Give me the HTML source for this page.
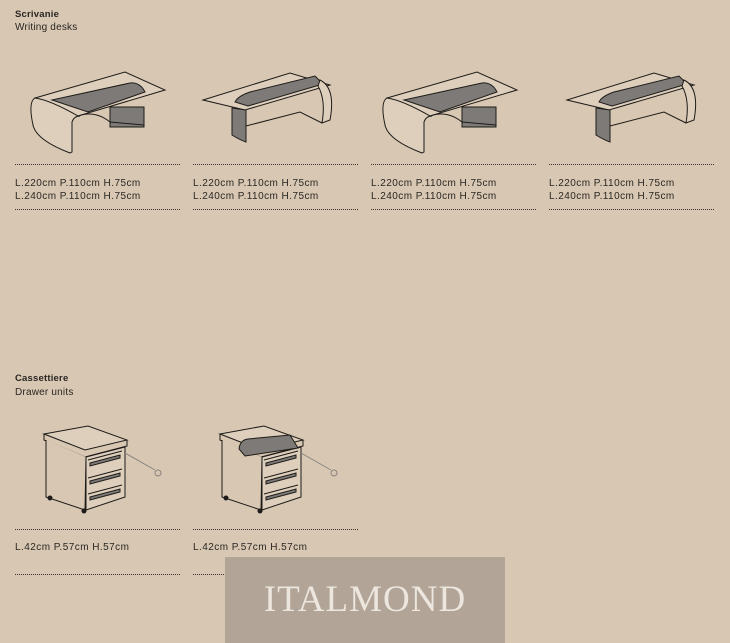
<!DOCTYPE html>
<html><head><meta charset="utf-8"><style>
html,body{margin:0;padding:0}
body{width:730px;height:643px;background:#d8c8b3;position:relative;overflow:hidden;font-family:"Liberation Sans",sans-serif;color:#2a2622}
.t{position:absolute;font-size:10px;line-height:13px;letter-spacing:0.45px}
.h{font-weight:bold;font-size:9.5px;letter-spacing:0.2px}
.dot{position:absolute;height:0;border-top:1px dotted #3a3530;width:165px}
.wm{position:absolute;left:225px;top:557px;width:280px;height:86px;background:#b2a597;color:#ece6de;font-family:"Liberation Serif",serif;font-size:37px;text-align:center;line-height:86px;letter-spacing:1px}
svg{position:absolute;left:0;top:0}
</style></head><body>
<div class="t h" style="left:15px;top:8px">Scrivanie</div>
<div class="t" style="left:15px;top:21px;letter-spacing:0.2px">Writing desks</div>
<div class="t h" style="left:15px;top:372px">Cassettiere</div>
<div class="t" style="left:15px;top:386px;letter-spacing:0.2px">Drawer units</div>

<div class="dot" style="left:15px;top:164px"></div><div class="dot" style="left:193px;top:164px"></div><div class="dot" style="left:371px;top:164px"></div><div class="dot" style="left:549px;top:164px"></div>
<div class="dot" style="left:15px;top:209px"></div><div class="dot" style="left:193px;top:209px"></div><div class="dot" style="left:371px;top:209px"></div><div class="dot" style="left:549px;top:209px"></div>
<div class="t" style="left:15px;top:177px">L.220cm P.110cm H.75cm<br>L.240cm P.110cm H.75cm</div>
<div class="t" style="left:193px;top:177px">L.220cm P.110cm H.75cm<br>L.240cm P.110cm H.75cm</div>
<div class="t" style="left:371px;top:177px">L.220cm P.110cm H.75cm<br>L.240cm P.110cm H.75cm</div>
<div class="t" style="left:549px;top:177px">L.220cm P.110cm H.75cm<br>L.240cm P.110cm H.75cm</div>

<div class="dot" style="left:15px;top:529px"></div><div class="dot" style="left:193px;top:529px"></div>
<div class="dot" style="left:15px;top:574px"></div><div class="dot" style="left:193px;top:574px"></div>
<div class="t" style="left:15px;top:541px">L.42cm P.57cm H.57cm</div>
<div class="t" style="left:193px;top:541px">L.42cm P.57cm H.57cm</div>

<svg width="730" height="643" viewBox="0 0 730 643" fill="none" stroke="#1e1b18" stroke-width="1">
<defs>
<g id="deskA">
 <path d="M35 98 L125 72 L165 90 L78 116 Z" fill="#ddcfbc"/>
 <path d="M52 100 L130 83 Q140 82 145 92 L88 112 Z" fill="#7d7a77"/>
 <rect x="110" y="107" width="34" height="20" fill="#7d7a77"/>
 <path d="M35 98 Q28 102 33 125 Q36 140 70 153 L72 152 L72 122 Q74 116 80 116 L78 116 Q50 100 35 98 Z" fill="#ddcfbc"/>
 <path d="M78 116 Q95 110 110 122 L144 125"/>
</g>
<g id="deskB">
 <path d="M203 100 L290 73 L330 85 L245 110 Z" fill="#ddcfbc"/>
 <path d="M235 102 Q238 96 250 92 L315 76 L323 84 L248 106 Z" fill="#7d7a77"/>
 <path d="M232 108 L246 110 L246 142 Q240 140 232 135 Z" fill="#7d7a77"/>
 <path d="M320 80 Q336 88 330 120 L322 123 Q326 100 318 86 Z" fill="#ddcfbc"/>
 <path d="M246 126 L300 112 L322 123"/>
</g>
<g id="drawer">
 <path d="M44 434 L88 426 L127 440 L85 450 Z" fill="#ddcfbc"/>
 <path d="M44 434 L44 440 L85 457 L127 446 L127 440" />
 <path d="M46 440 L46 497 L85 510 L86 457" fill="#d8c8b3"/>
 <path d="M86 457 L125 447 L125 497 L86 510 Z" fill="#ddcfbc"/>
 <path d="M88 460 L122 451 M88 478 L122 469 M88 494 L122 485"/>
 <path d="M90 463 L120 455 L120 458 L90 466 Z M90 481 L120 473 L120 476 L90 484 Z M90 497 L120 489 L120 492 L90 500 Z" fill="#7d7a77"/>
 <path d="M125 453 L155 470" stroke="#8a8480"/>
 <circle cx="158" cy="473" r="3" stroke="#8a8480"/>
 <circle cx="50" cy="498" r="2" fill="#1e1b18"/><circle cx="84" cy="511" r="2" fill="#1e1b18"/>
</g>
</defs>
<use href="#deskA"/>
<use href="#deskB"/>
<use href="#deskA" transform="translate(352,0)"/>
<use href="#deskB" transform="translate(364,0)"/>
<use href="#drawer"/>
<use href="#drawer" transform="translate(176,0)"/>
<path d="M239 449 Q240 440 248 439 L290 435 L298 448 L245 456 Z" fill="#7d7a77"/>
</svg>
<div class="wm">ITALMOND</div>
</body></html>
